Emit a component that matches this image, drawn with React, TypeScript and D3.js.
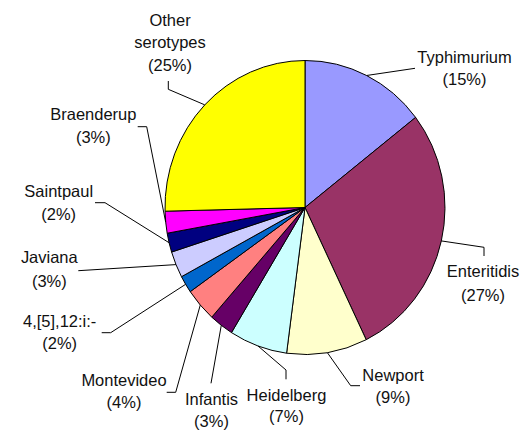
import React from "react";
import * as d3 from "d3";

const categories = [
  "Typhimurium",
  "Enteritidis",
  "Newport",
  "Heidelberg",
  "Infantis",
  "Montevideo",
  "4,[5],12:i:-",
  "Javiana",
  "Saintpaul",
  "Braenderup",
  "Other serotypes",
];
const values = [14.5, 28.3, 9.3, 6.7, 2.8, 3.7, 1.9, 2.9, 2.1, 2.4, 25.4];
const percentLabels = ["15%", "27%", "9%", "7%", "3%", "4%", "2%", "3%", "2%", "3%", "25%"];
const colors = [
  "#9999FF",
  "#993366",
  "#FFFFCC",
  "#CCFFFF",
  "#660066",
  "#FF8080",
  "#0066CC",
  "#CCCCFF",
  "#000080",
  "#FF00FF",
  "#FFFF00",
];

// Layout of labels (text lines, baselines, leader elbow points) in page pixels
type LabelLayout = { lines: string[]; cx: number; ys: number[]; pts: [number, number][] };
const labelLayout: LabelLayout[] = [
  { lines: ["Typhimurium"], cx: 464.5, ys: [62.7, 85], pts: [[415, 68.3]] },
  { lines: ["Enteritidis"], cx: 483, ys: [277.3, 300.7], pts: [[484, 247.3], [484, 256]] },
  { lines: ["Newport"], cx: 393, ys: [380.7, 403.3], pts: [[350.7, 385.7], [360, 385.7]] },
  { lines: ["Heidelberg"], cx: 286.5, ys: [400.7, 422], pts: [[286, 370], [286, 379.3]] },
  { lines: ["Infantis"], cx: 211.5, ys: [405, 427], pts: [[211, 383.3]] },
  { lines: ["Montevideo"], cx: 124, ys: [385.7, 408], pts: [[175.7, 392.3], [166.7, 392.3]] },
  { lines: ["4,[5],12:i:-"], cx: 59.7, ys: [326.7, 349], pts: [[110.7, 332.7], [101.7, 332.7]] },
  { lines: ["Javiana"], cx: 49.3, ys: [263.3, 286.7], pts: [[78.3, 270.7]] },
  { lines: ["Saintpaul"], cx: 58.7, ys: [196.7, 219.5], pts: [[105, 202.7], [95, 202.7]] },
  { lines: ["Braenderup"], cx: 93.3, ys: [120, 143.3], pts: [[146.7, 126.7], [137.7, 126.7]] },
  { lines: ["Other", "serotypes"], cx: 170, ys: [26, 48.3, 70.7], pts: [[168.3, 89.3], [168.3, 81]] },
];

const W = 522;
const H = 432;
const CX = 305;
const CY = 207.5;
const R = 140;
const SY = 1.05;

export default function App() {
  const pie = d3.pie<number>().sort(null).value((d) => d);
  const arcs = pie(values);
  const arcGen = d3.arc<d3.PieArcDatum<number>>().innerRadius(0).outerRadius(R);

  const edgePoint = (a: d3.PieArcDatum<number>): [number, number] => {
    const mid = (a.startAngle + a.endAngle) / 2;
    return [CX + R * Math.sin(mid), CY - R * SY * Math.cos(mid)];
  };

  const font = "'Liberation Sans', Arial, sans-serif";

  return (
    <svg
      width={W}
      height={H}
      style={{ position: "absolute", left: 0, top: 0, background: "#fff" }}
    >
      <rect x={0} y={0} width={W} height={H} fill="#fff" />
      <g transform={`translate(${CX},${CY}) scale(1,${SY})`}>
        {arcs.map((a, i) => (
          <path
            key={categories[i]}
            d={arcGen(a) || ""}
            fill={colors[i]}
            stroke="#000"
            strokeWidth={1}
            vectorEffect="non-scaling-stroke"
            strokeLinejoin="round"
          />
        ))}
      </g>
      {arcs.map((a, i) => {
        const lay = labelLayout[i];
        const e = edgePoint(a);
        const pts: [number, number][] = [e, ...lay.pts];
        const line = d3.line()(pts) || "";
        return <path key={"l" + i} d={line} fill="none" stroke="#000" strokeWidth={1} />;
      })}
      {labelLayout.map((lay, i) => {
        const texts = [...lay.lines, `(${percentLabels[i]})`];
        return (
          <g key={"t" + i}>
            {texts.map((t, j) => (
              <text
                key={j}
                transform={`translate(${lay.cx},${lay.ys[j]}) scale(1,${SY})`}
                textAnchor="middle"
                fontFamily={font}
                fontSize={16.5}
                fill="#111"
              >
                {t}
              </text>
            ))}
          </g>
        );
      })}
    </svg>
  );
}
